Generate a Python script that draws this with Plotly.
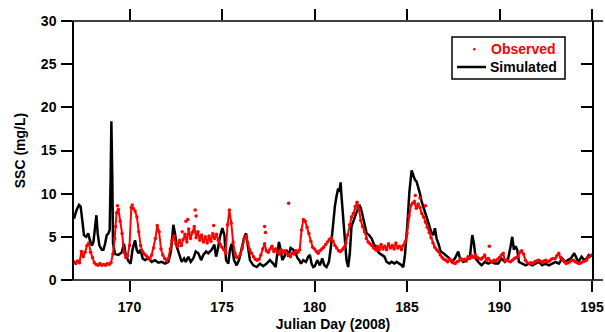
import plotly.graph_objects as go

# ---------------- data ----------------
sim_day = [167.00,167.14,167.27,167.36,167.47,167.54,167.65,167.77,167.86,167.97,
           168.05,168.14,168.21,168.28,168.37,168.50,168.59,168.68,168.77,168.86,
           168.93,168.98,169.02,169.07,169.11,169.22,169.40,169.58,169.70,169.79,
           169.94,170.06,170.17,170.30,170.39,170.48,170.60,170.71,170.84,171.02,
           171.20,171.38,171.56,171.74,171.92,172.10,172.24,172.37,172.46,172.55,
           172.68,172.82,172.95,173.04,173.18,173.31,173.45,173.58,173.72,173.87,
           173.99,174.14,174.26,174.44,174.59,174.68,174.77,174.89,175.02,175.13,
           175.22,175.34,175.43,175.52,175.65,175.79,175.92,176.06,176.21,176.30,
           176.39,176.51,176.69,176.88,177.05,177.23,177.41,177.59,177.77,177.90,
           177.99,178.08,178.17,178.26,178.37,178.49,178.58,178.71,178.85,178.98,
           179.09,179.18,179.27,179.39,179.54,179.66,179.75,179.84,179.93,180.02,
           180.15,180.29,180.42,180.53,180.65,180.78,180.89,180.98,181.10,181.19,
           181.28,181.34,181.41,181.46,181.55,181.64,181.73,181.82,181.91,182.00,
           182.14,182.28,182.42,182.51,182.64,182.73,182.82,182.95,183.09,183.22,
           183.36,183.51,183.63,183.78,183.90,184.05,184.17,184.32,184.44,184.59,
           184.71,184.80,184.89,185.02,185.13,185.25,185.34,185.43,185.52,185.61,
           185.70,185.79,185.92,186.06,186.19,186.30,186.42,186.51,186.60,186.70,
           186.82,186.97,187.15,187.29,187.41,187.59,187.77,187.86,188.04,188.22,
           188.40,188.53,188.62,188.71,188.85,189.03,189.21,189.39,189.57,189.75,
           189.93,190.11,190.29,190.47,190.60,190.69,190.78,190.87,190.96,191.05,
           191.23,191.41,191.59,191.77,191.95,192.13,192.31,192.49,192.67,192.85,
           193.03,193.21,193.39,193.54,193.72,193.86,194.04,194.17,194.26,194.44,
           194.58,194.71,194.83,194.98]
sim_val = [7.1,8.1,8.7,8.5,6.5,5.2,5.0,5.4,4.6,4.0,
           4.4,5.8,7.5,5.4,4.0,3.5,3.5,4.2,5.2,5.4,
           5.8,11.9,18.4,11.9,4.2,3.0,2.9,3.2,4.2,3.0,
           2.2,1.9,3.6,4.6,3.5,3.1,3.5,2.5,2.3,2.5,
           2.1,2.3,2.0,2.1,1.9,2.1,3.3,6.4,5.4,3.9,
           2.9,2.1,2.5,2.1,2.7,2.1,2.5,3.3,3.1,2.3,
           2.9,3.3,3.1,3.5,4.1,2.7,3.5,5.0,6.0,5.2,
           2.3,1.9,3.5,4.2,2.3,1.7,2.3,3.5,5.0,5.4,
           3.9,2.3,1.7,1.5,1.9,1.6,1.9,2.3,1.9,1.5,
           3.1,4.4,3.5,2.3,2.7,3.5,2.7,3.7,3.5,3.1,
           2.5,2.3,1.9,2.3,2.1,2.7,2.9,1.9,1.5,1.6,
           2.3,1.7,2.5,1.7,1.5,2.1,3.9,6.2,8.5,9.7,
           10.6,10.2,11.3,9.7,7.3,4.2,2.3,1.5,3.1,6.2,
           7.2,7.9,8.7,8.3,7.1,6.2,5.4,5.2,4.8,4.1,
           3.5,3.1,2.9,2.7,2.1,1.9,2.1,1.9,2.1,1.9,
           1.7,1.5,2.9,6.4,10.2,12.7,12.1,11.6,11.4,10.8,
           10.0,9.1,8.3,7.3,6.4,5.6,5.2,6.0,4.8,4.2,
           3.3,3.1,2.7,2.5,2.1,2.5,3.3,2.5,2.1,2.3,
           2.7,5.2,4.2,2.5,2.1,1.7,2.1,1.9,2.1,1.9,
           1.9,2.5,2.1,2.5,3.9,5.0,3.5,3.9,3.5,2.1,
           1.9,1.7,1.9,1.7,1.9,2.1,1.7,1.9,1.7,1.9,
           2.1,1.9,2.5,2.1,2.3,2.5,3.1,2.5,2.1,2.7,
           2.3,2.5,2.9,2.7]

obs_start = 167.0
obs_step = 0.1
obs_val = [
    2.1,1.9,2.2,2.0,3.3,2.7,3.2,4.0,4.3,3.2,   # 167
    2.6,2.0,1.8,1.7,1.9,1.7,1.8,1.7,1.9,1.8,   # 168
    2.0,3.0,4.8,7.8,8.2,6.8,5.4,3.2,2.6,2.8,   # 169
    4.0,8.4,8.3,8.0,7.3,5.6,4.0,3.3,3.0,2.8,   # 170
    2.6,2.4,2.9,3.7,4.8,6.3,5.6,3.6,2.9,2.5,   # 171
    2.2,2.5,3.6,4.6,5.1,4.2,3.9,4.6,4.0,4.7,   # 172
    5.3,4.4,5.9,4.8,5.5,6.2,4.9,5.6,4.6,5.2,   # 173
    4.4,5.0,4.3,5.1,4.5,5.4,4.8,5.3,4.6,4.1,   # 174
    3.8,3.5,3.1,6.4,8.1,6.6,4.4,3.1,2.6,2.7,   # 175
    3.0,3.7,4.8,5.1,4.3,3.5,3.1,2.7,2.4,2.3,   # 176
    2.4,2.9,3.6,4.2,3.4,3.2,3.6,3.9,3.3,3.6,   # 177
    3.2,3.0,3.5,3.2,3.4,3.1,2.9,2.7,3.1,3.0,   # 178
    3.4,3.2,3.5,5.8,7.0,6.8,6.1,5.4,4.5,3.8,   # 179
    3.6,3.3,3.1,3.4,3.6,3.8,4.1,4.4,4.7,4.9,   # 180
    4.5,4.0,3.7,3.4,3.3,3.5,3.8,4.3,5.2,6.4,   # 181
    7.3,7.7,8.5,9.0,8.2,6.9,6.2,5.6,4.8,4.4,   # 182
    4.2,4.0,3.7,3.5,3.9,3.5,4.1,3.6,3.9,3.5,   # 183
    4.2,3.7,4.0,3.6,4.3,3.7,3.9,3.5,4.0,4.4,   # 184
    5.4,7.4,8.6,8.9,9.1,8.3,8.8,8.4,7.7,7.3,   # 185
    6.7,6.1,5.5,4.9,4.3,3.8,3.5,3.3,2.9,2.6,   # 186
    2.4,2.3,2.1,2.4,2.3,2.0,1.9,2.1,2.2,2.5,   # 187
    2.3,2.4,2.2,2.7,2.5,2.8,2.6,2.9,2.6,2.5,   # 188
    2.4,2.6,2.9,2.3,2.5,2.2,2.1,2.3,2.2,2.4,   # 189
    2.6,2.9,3.1,2.2,2.3,2.2,2.1,2.3,2.5,2.6,   # 190
    2.7,3.2,3.4,3.0,2.3,2.0,1.9,2.0,1.9,2.1,   # 191
    2.2,2.3,2.2,2.0,2.2,2.3,2.1,2.2,2.4,2.5,   # 192
    2.5,2.8,3.1,2.6,2.3,2.1,1.9,2.0,2.1,2.3,   # 193
    2.3,2.1,2.0,1.9,2.0,2.1,2.2,2.3,2.6,2.8,   # 194
    2.9]                                       # 195
obs_extra_day = [169.25, 169.35, 170.15, 172.85, 173.05, 173.15, 173.55, 173.6, 174.55,
                 177.3, 177.35, 178.6, 185.45, 185.7, 186.0, 189.45]
obs_extra_val = [6.2, 8.6, 8.7, 5.6, 6.8, 7.0, 8.1, 7.4, 6.3,
                 6.2, 5.5, 8.9, 9.8, 9.5, 8.6, 3.9]

obs_day = [round(obs_start + i * obs_step, 2) for i in range(len(obs_val))]

x_ticks = [170, 175, 180, 185, 190, 195]
y_ticks = [0, 5, 10, 15, 20, 25, 30]
legend_labels = ["Observed", "Simulated"]

# ---------------- figure ----------------
FONT = "Liberation Sans, Arial, sans-serif"
W, H = 605, 332
L, R, T, B = 74, 13, 21, 52
PW, PH = W - L - R, H - T - B
RED = "#ff0000"


def px(xp):
    return (xp - L) / PW


def py(yp):
    return (H - B - yp) / PH


fig = go.Figure()
fig.add_trace(go.Scatter(x=sim_day, y=sim_val, mode="lines",
                         line=dict(color="black", width=2.5),
                         name=legend_labels[1], showlegend=False))
# dense observed record: dots joined so the sampled band reads as continuous
fig.add_trace(go.Scatter(x=obs_day, y=obs_val, mode="lines+markers",
                         line=dict(color=RED, width=2),
                         marker=dict(color=RED, size=3.5, line=dict(width=0)),
                         name=legend_labels[0], showlegend=False))
fig.add_trace(go.Scatter(x=obs_extra_day, y=obs_extra_val, mode="markers",
                         marker=dict(color=RED, size=3.5, line=dict(width=0)),
                         name=legend_labels[0], showlegend=False))
fig.add_trace(go.Scatter(x=[167, 195], y=[0, 30], xaxis="x2", yaxis="y2",
                         mode="markers", marker=dict(opacity=0), showlegend=False,
                         hoverinfo="skip"))

axis_common = dict(showgrid=False, zeroline=False, linecolor="black", linewidth=1.5,
                   tickcolor="black", tickwidth=1.5, ticklen=11, automargin=False)

fig.update_layout(
    width=W, height=H,
    margin=dict(l=L, r=R, t=T, b=B, autoexpand=False),
    paper_bgcolor="white", plot_bgcolor="white",
    font=dict(family=FONT, size=14, color="black", weight="bold"),
    showlegend=False,
    xaxis=dict(range=[167, 195], tickvals=x_ticks, ticks="outside", showline=False,
               ticklabelstandoff=3,
               tickfont=dict(family=FONT, size=14, weight="bold"),
               title=dict(text="Julian Day (2008)", standoff=8,
                          font=dict(family=FONT, size=14, weight="bold")),
               **axis_common),
    yaxis=dict(range=[0, 30], tickvals=y_ticks, ticks="outside", showline=True,
               ticklabelstandoff=2,
               tickfont=dict(family=FONT, size=14, weight="bold"),
               title=dict(text="SSC (mg/L)", standoff=12,
                          font=dict(family=FONT, size=14, weight="bold")),
               **axis_common),
    xaxis2=dict(range=[167, 195], tickvals=x_ticks, ticks="outside", side="top",
                overlaying="x", showticklabels=False, showline=False, **axis_common),
    yaxis2=dict(range=[0, 30], tickvals=y_ticks, ticks="inside", side="right",
                overlaying="y", showticklabels=False, showline=True, **axis_common),
)

# extended top / bottom frame lines
ext = 11 / PW
for yy in (0, 1):
    fig.add_shape(type="line", xref="paper", yref="paper", x0=-ext, x1=1 + ext,
                  y0=yy, y1=yy, line=dict(color="black", width=1.5), layer="above")

# legend box (drawn by hand to match the reference)
fig.add_shape(type="rect", xref="paper", yref="paper",
              x0=px(452), x1=px(565), y0=py(79), y1=py(37),
              line=dict(color="black", width=1.5), fillcolor="white", layer="above")
fig.add_shape(type="circle", xref="paper", yref="paper",
              x0=px(473), x1=px(475.5), y0=py(50.5), y1=py(48),
              line=dict(width=0), fillcolor=RED, layer="above")
fig.add_shape(type="line", xref="paper", yref="paper",
              x0=px(457), x1=px(486), y0=py(67), y1=py(67),
              line=dict(color="black", width=2.5), layer="above")
fig.add_annotation(xref="paper", yref="paper", x=px(489), y=py(49),
                   xanchor="left", yanchor="middle", showarrow=False,
                   text=legend_labels[0],
                   font=dict(family=FONT, size=14, color=RED, weight="bold"))
fig.add_annotation(xref="paper", yref="paper", x=px(488), y=py(67),
                   xanchor="left", yanchor="middle", showarrow=False,
                   text=legend_labels[1],
                   font=dict(family=FONT, size=14, color="black", weight="bold"))

fig.write_html("out.html")
